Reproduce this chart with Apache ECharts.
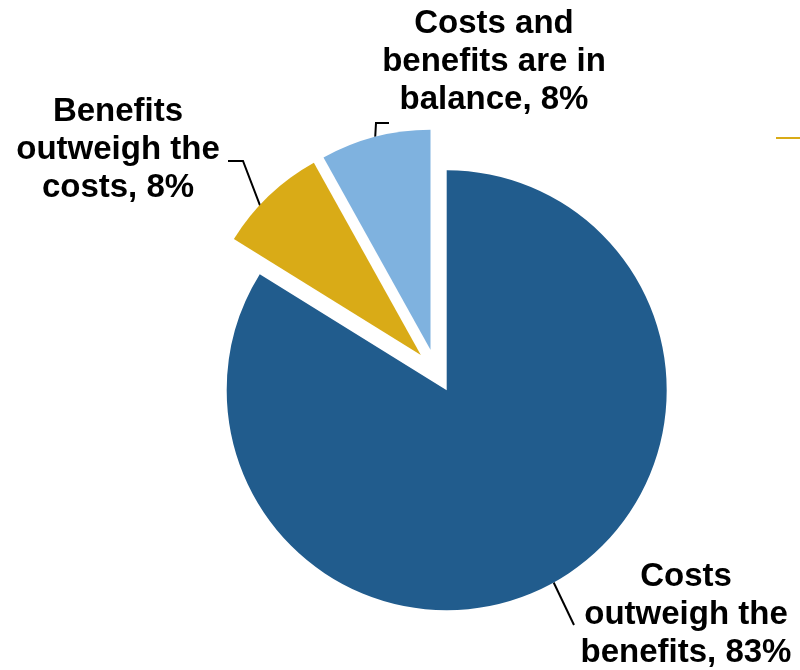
<!DOCTYPE html>
<html>
<head>
<meta charset="utf-8">
<script src="https://cdn.jsdelivr.net/npm/echarts@6/dist/echarts.min.js"></script>
<style>
  html, body { margin: 0; padding: 0; background: #fff; }
  #chart { width: 800px; height: 670px; }
</style>
</head>
<body>
<div id="chart"></div>
<script>
// slice names (line breaks as in the picture) and their shares in percent
const categories = ['Costs\noutweigh the\nbenefits', 'Benefits\noutweigh the\ncosts', 'Costs and\nbenefits are in\nbalance']
const shares = [83, 8, 8]
const colors = ['#215c8d', '#d9ab17', '#7fb2df']

const center = [436, 371]
const radius = 220
const explode = 22

// label block centres, and where the leader line meets the text (relative to that centre)
const labelSpots = [
  { x: 686, y: 615, elbow: [-112, 10], end: [-112, 10] },
  { x: 118, y: 150, elbow: [125, 11], end: [110, 11] },
  { x: 494, y: 62, elbow: [-118, 61], end: [-105, 61] }
]

const chart = echarts.init(document.getElementById('chart'))

const labelFont = {
  color: '#000',
  fontFamily: '"Liberation Sans", Arial, sans-serif',
  fontWeight: 'bold',
  fontSize: 33,
  lineHeight: 38,
  align: 'center'
}

const option = {
  animation: false,
  backgroundColor: '#fff',
  graphic: [
    {
      type: 'line',
      shape: { x1: 776, y1: 138, x2: 800, y2: 138 },
      style: { stroke: '#d9ab17', lineWidth: 2 },
      silent: true
    }
  ],
  series: [
    // exploded slices
    {
      type: 'pie',
      z: 3,
      center,
      radius,
      startAngle: 90,
      clockwise: true,
      selectedMode: 'multiple',
      selectedOffset: explode,
      emphasis: { disabled: true },
      label: { show: false },
      labelLine: { show: false },
      data: categories.map((name, i) => ({
        name,
        value: shares[i],
        selected: true,
        itemStyle: { color: colors[i] }
      }))
    },
    // same pie, invisible, only carries the labels and leader lines
    {
      type: 'pie',
      z: 2,
      silent: true,
      center,
      radius,
      startAngle: 90,
      clockwise: true,
      emphasis: { disabled: true },
      itemStyle: { color: 'rgba(0,0,0,0)' },
      data: categories.map((name, i) => ({ name, value: shares[i] })),
      label: Object.assign({
        show: true,
        position: 'outside',
        formatter: '{b}, {c}%'
      }, labelFont),
      labelLine: {
        show: true,
        length: 15,
        length2: 12,
        lineStyle: { color: '#000', width: 2 }
      },
      labelLayout: (params) => {
        const spot = labelSpots[params.dataIndex]
        const out = {
          x: spot.x,
          y: spot.y,
          align: 'center',
          verticalAlign: 'middle'
        }
        const pts = params.labelLinePoints
        if (pts && pts.length >= 2) {
          // start on the exploded slice edge: push the default start out along its radial direction
          const dx = pts[1][0] - pts[0][0]
          const dy = pts[1][1] - pts[0][1]
          const len = Math.sqrt(dx * dx + dy * dy) || 1
          const start = [pts[0][0] + dx / len * explode, pts[0][1] + dy / len * explode]
          out.labelLinePoints = [
            start,
            [spot.x + spot.elbow[0], spot.y + spot.elbow[1]],
            [spot.x + spot.end[0], spot.y + spot.end[1]]
          ]
        }
        return out
      }
    }
  ]
}

chart.setOption(option)
</script>
</body>
</html>
